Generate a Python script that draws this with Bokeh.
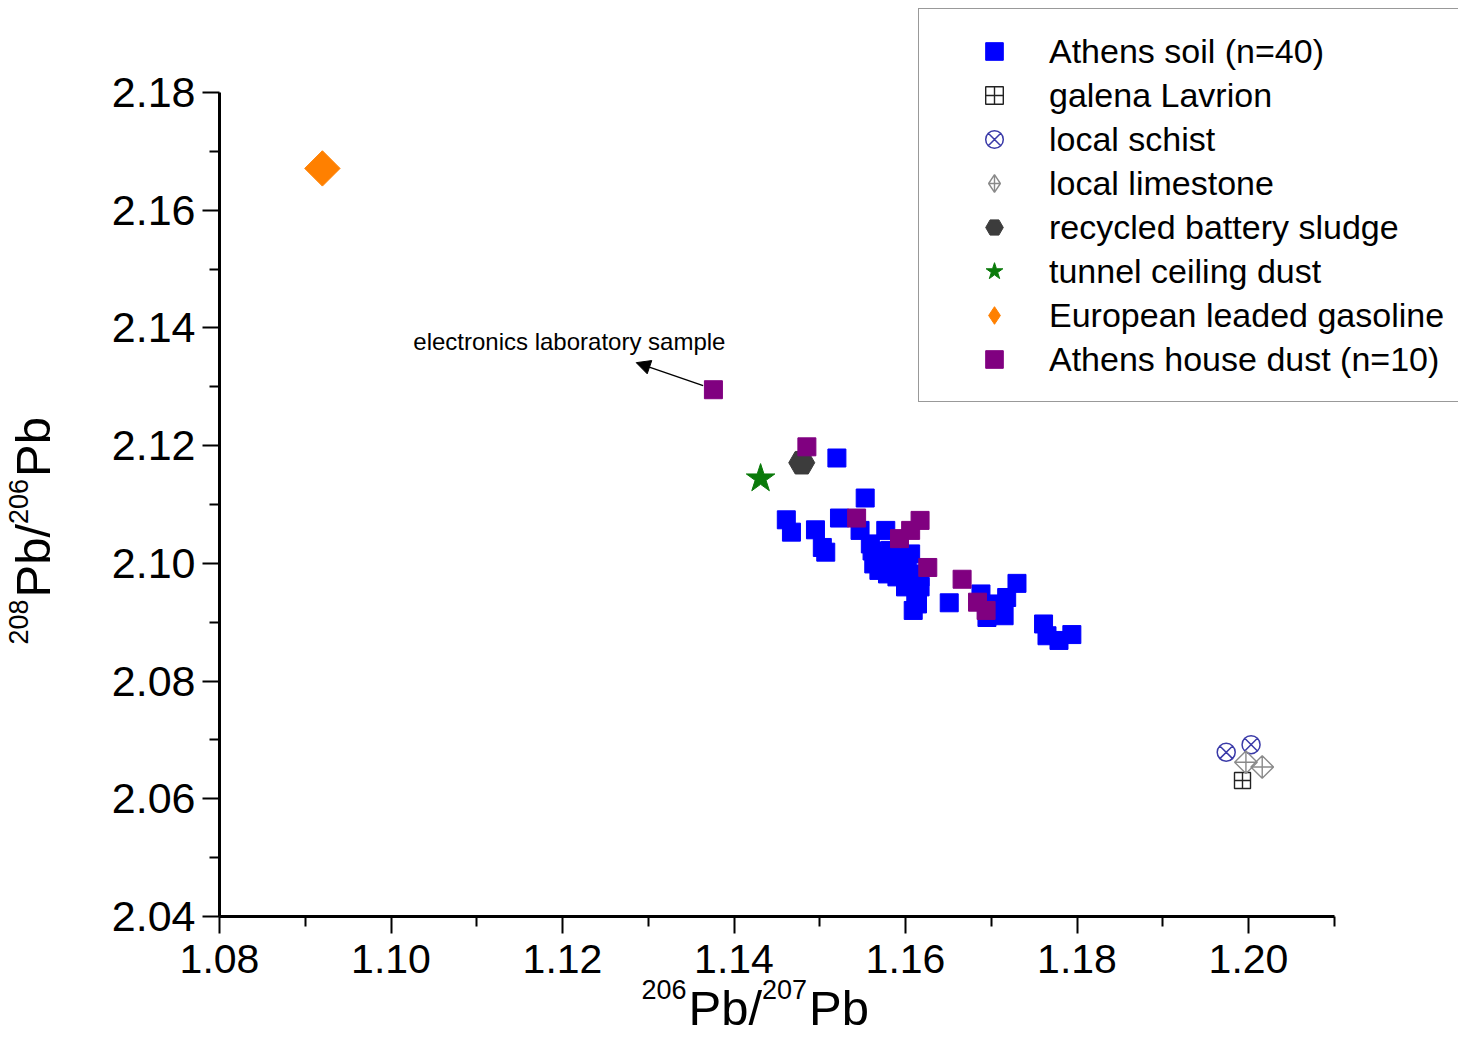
import numpy as np
from bokeh.plotting import figure
from bokeh.models import (Range1d, FixedTicker, PrintfTickFormatter, Legend, LegendItem,
                          Label, Arrow, NormalHead)
from bokeh.embed import file_html
from bokeh.resources import INLINE

# ---------------- data ----------------
soil_x = [1.1520, 1.1553, 1.1461, 1.1467, 1.1495, 1.1503, 1.1507, 1.1523, 1.1547, 1.1577,
          1.1561, 1.1571, 1.1569, 1.1586, 1.1602, 1.1590, 1.1610, 1.1617, 1.1600, 1.1612,
          1.1614, 1.1609, 1.1651, 1.1688, 1.1695, 1.1715, 1.1718, 1.1730, 1.1761, 1.1765,
          1.1779, 1.1794, 1.1559, 1.1582, 1.1606, 1.1579, 1.1594, 1.1563, 1.1617, 1.1707]
soil_y = [2.1179, 2.1111, 2.1074, 2.1053, 2.1057, 2.1027, 2.1019, 2.1077, 2.1056, 2.1056,
          2.1021, 2.1011, 2.0988, 2.0999, 2.0999, 2.0977, 2.0982, 2.0977, 2.0960, 2.0948,
          2.0931, 2.0920, 2.0933, 2.0948, 2.0908, 2.0911, 2.0942, 2.0966, 2.0897, 2.0877,
          2.0869, 2.0879, 2.1033, 2.1022, 2.1016, 2.0982, 2.1011, 2.0999, 2.0960, 2.0931]

galena_x = [1.1993]
galena_y = [2.0631]

schist_x = [1.1974, 1.2003]
schist_y = [2.0679, 2.0692]

limestone_x = [1.1997, 1.2016]
limestone_y = [2.0662, 2.0654]

battery_x = [1.1479]
battery_y = [2.1171]

tunnel_x = [1.1431]
tunnel_y = [2.1144]

gasoline_x = [1.0920]
gasoline_y = [2.1671]

dust_x = [1.1376, 1.1485, 1.1543, 1.1617, 1.1606, 1.1593, 1.1626, 1.1666, 1.1684, 1.1694]
dust_y = [2.1295, 2.1198, 2.1077, 2.1073, 2.1056, 2.1042, 2.0993, 2.0973, 2.0934, 2.0920]

x_major = [1.08, 1.10, 1.12, 1.14, 1.16, 1.18, 1.20]
x_minor = [1.09, 1.11, 1.13, 1.15, 1.17, 1.19, 1.21]
y_major = [2.04, 2.06, 2.08, 2.10, 2.12, 2.14, 2.16, 2.18]
y_minor = [2.05, 2.07, 2.09, 2.11, 2.13, 2.15, 2.17]
x_bounds = (1.08, 1.21)
y_bounds = (2.04, 2.18)

legend_labels = ["Athens soil (n=40)", "galena Lavrion", "local schist", "local limestone",
                 "recycled battery sludge", "tunnel ceiling dust", "European leaded gasoline",
                 "Athens house dust (n=10)"]

note_text = "electronics laboratory sample"
note_pos = (1.1026, 2.1377)
arrow_start = (1.1364, 2.1302)
arrow_end = (1.1286, 2.1341)

x_label_parts = [("206", True), ("Pb/", False), ("207", True), ("Pb", False)]
y_label_parts = [("208", True), ("Pb/", False), ("206", True), ("Pb", False)]

FONT = "Liberation Sans"

# ---------------- layout (pixels) ----------------
W, H = 1458, 1040
AX_LEFT, AX_BOTTOM = 219, 916           # canvas position of (1.08, 2.04)
XPX = (1248 - 219) / 0.12               # pixels per x unit
YPX = (916 - 92) / 0.14                 # pixels per y unit
x_rng = Range1d(x_bounds[0] - AX_LEFT / XPX, x_bounds[0] + (W - AX_LEFT) / XPX)
y_rng = Range1d(y_bounds[0] - (H - AX_BOTTOM) / YPX, y_bounds[0] + AX_BOTTOM / YPX)

p = figure(width=W, height=H, output_backend="svg", toolbar_location=None,
           x_range=x_rng, y_range=y_rng,
           min_border_left=0, min_border_right=0, min_border_top=0, min_border_bottom=0)
p.outline_line_color = None
p.xgrid.visible = False
p.ygrid.visible = False
p.background_fill_color = "white"
p.border_fill_color = "white"

r_soil = p.scatter(soil_x, soil_y, marker="square", size=18, fill_color="#0000ff",
                   line_color="#0000ff")
r_gal = p.scatter(galena_x, galena_y, marker="square_cross", size=16, fill_color=None,
                  line_color="#222222", line_width=1.4)
r_sch = p.scatter(schist_x, schist_y, marker="circle_x", size=18, fill_color=None,
                  line_color="#3a3aa8", line_width=1.5)
r_lim = p.scatter(limestone_x, limestone_y, marker="square_x", angle=np.pi / 4, size=16,
                  fill_color=None, line_color="#8a8a8a", line_width=1.4)
r_bat = p.scatter(battery_x, battery_y, marker="hex", size=26, fill_color="#3c3c3c",
                  line_color="#3c3c3c")
r_tun = p.scatter(tunnel_x, tunnel_y, marker="star", size=30, fill_color="#0a7a0a",
                  line_color="#0a7a0a")
r_gas = p.scatter(gasoline_x, gasoline_y, marker="square", angle=np.pi / 4, size=25,
                  fill_color="#ff8000", line_color="#ff8000")
r_dust = p.scatter(dust_x, dust_y, marker="square", size=18, fill_color="#800080",
                   line_color="#800080")
# legend-only glyph looks (a single missing point: nothing drawn in the plot)
r_lim_leg = p.scatter([np.nan], [np.nan], marker="diamond_cross", size=16, fill_color=None,
                      line_color="#8a8a8a", line_width=1.4)
r_gas_leg = p.scatter([np.nan], [np.nan], marker="diamond", size=16, fill_color="#ff8000",
                      line_color="#ff8000")

# axes, drawn at fixed positions inside the frame
p.xaxis.fixed_location = y_bounds[0]
p.yaxis.fixed_location = x_bounds[0]
p.xaxis.bounds = x_bounds
p.yaxis.bounds = y_bounds
for ax in (p.xaxis, p.yaxis):
    ax.axis_line_width = 3
    ax.axis_line_color = "black"
    ax.major_tick_line_width = 2
    ax.minor_tick_line_width = 2
    ax.major_tick_line_color = "black"
    ax.minor_tick_line_color = "black"
    ax.major_tick_out = 17
    ax.major_tick_in = 0
    ax.minor_tick_out = 10
    ax.minor_tick_in = 0
    ax.major_label_text_font = FONT
    ax.major_label_text_color = "black"
    ax.formatter = PrintfTickFormatter(format="%.2f")
    ax.axis_label = None

p.xaxis.ticker = FixedTicker(ticks=x_major, minor_ticks=x_minor)
p.yaxis.ticker = FixedTicker(ticks=y_major, minor_ticks=y_minor)
p.xaxis.major_label_text_font_size = "41px"
p.yaxis.major_label_text_font_size = "43px"
p.xaxis.major_label_standoff = 11
p.yaxis.major_label_standoff = 7

# axis titles with superscripts (pieces of real text)
MAIN, SUP = 49, 27
SHIFT = {MAIN: 20, SUP: 12}             # label baseline correction (px)
ADV = {"P": 0.667, "b": 0.556, "/": 0.278}
def adv(s, fs):
    return sum(ADV.get(c, 0.556) for c in s) * fs

# x title: runs left to right, main baseline at canvas y=1027
pos = 641.0
for txt, sup in x_label_parts:
    fs = SUP if sup else MAIN
    base = 1027 - (26 if sup else 0) - SHIFT[fs]
    p.add_layout(Label(x=pos, y=H - base, x_units="screen", y_units="screen", text=txt,
                       text_font=FONT, text_font_size=f"{fs}px", text_align="left",
                       text_baseline="alphabetic", text_color="black"))
    pos += adv(txt, fs) + (2 if sup else 0)

# y title: rotated, runs bottom to top, main baseline at canvas x=52
pos = H - 644.0
for txt, sup in y_label_parts:
    fs = SUP if sup else MAIN
    xx = 52 - (22 if sup else 0) - SHIFT[fs]
    p.add_layout(Label(x=xx, y=pos, x_units="screen", y_units="screen", text=txt,
                       angle=np.pi / 2, text_font=FONT, text_font_size=f"{fs}px",
                       text_align="left", text_baseline="alphabetic", text_color="black"))
    pos += adv(txt, fs) + (2 if sup else 0)

# annotation
p.add_layout(Label(x=note_pos[0], y=note_pos[1], text=note_text, text_font=FONT,
                   text_font_size="24px", text_baseline="middle", text_color="black"))
p.add_layout(Arrow(end=NormalHead(size=14, fill_color="black", line_color="black"),
                   x_start=arrow_start[0], y_start=arrow_start[1],
                   x_end=arrow_end[0], y_end=arrow_end[1],
                   line_width=1.5, line_color="black"))

# legend
leg_renderers = [r_soil, r_gal, r_sch, r_lim_leg, r_bat, r_tun, r_gas_leg, r_dust]
items = [LegendItem(label=lab, renderers=[r]) for lab, r in zip(legend_labels, leg_renderers)]
legend = Legend(items=items, location=(918, H - 402), margin=0, padding=20, spacing=0,
                glyph_width=110, glyph_height=44, label_height=44, label_standoff=0,
                label_text_font=FONT, label_text_font_size="34px", label_text_color="black",
                border_line_color="#333333", border_line_width=1.5,
                background_fill_color="white", background_fill_alpha=1.0)
p.add_layout(legend, "center")

open("out.html", "w").write(file_html(p, INLINE))
